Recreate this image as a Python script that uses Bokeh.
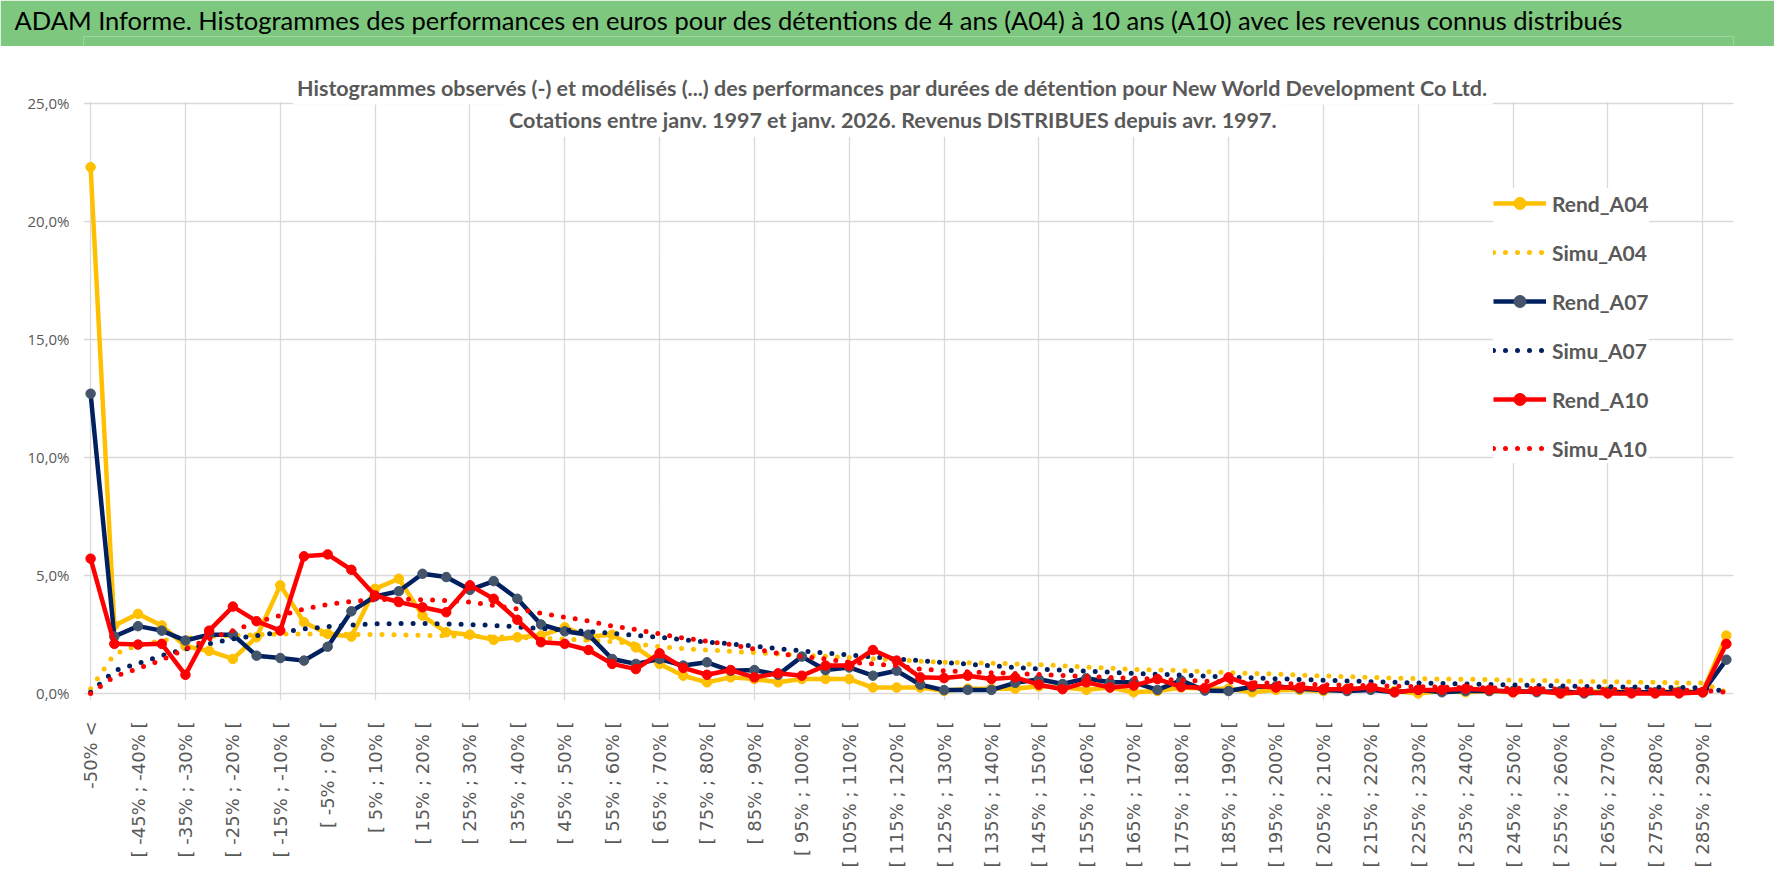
from bokeh.plotting import figure
from bokeh.models import (ColumnDataSource, Legend, LegendItem, FixedTicker, Label, Range1d,
                          Title, BoxAnnotation)
from bokeh.layouts import column
from bokeh.embed import file_html
from bokeh.resources import INLINE

categories = [
    "-50% <", "[ -50% ; -45% [", "[ -45% ; -40% [", "[ -40% ; -35% [", "[ -35% ; -30% [",
    "[ -30% ; -25% [", "[ -25% ; -20% [", "[ -20% ; -15% [", "[ -15% ; -10% [", "[ -10% ; -5% [",
    "[ -5% ; 0% [", "[ 0% ; 5% [", "[ 5% ; 10% [", "[ 10% ; 15% [", "[ 15% ; 20% [",
    "[ 20% ; 25% [", "[ 25% ; 30% [", "[ 30% ; 35% [", "[ 35% ; 40% [", "[ 40% ; 45% [",
    "[ 45% ; 50% [", "[ 50% ; 55% [", "[ 55% ; 60% [", "[ 60% ; 65% [", "[ 65% ; 70% [",
    "[ 70% ; 75% [", "[ 75% ; 80% [", "[ 80% ; 85% [", "[ 85% ; 90% [", "[ 90% ; 95% [",
    "[ 95% ; 100% [", "[ 100% ; 105% [", "[ 105% ; 110% [", "[ 110% ; 115% [", "[ 115% ; 120% [",
    "[ 120% ; 125% [", "[ 125% ; 130% [", "[ 130% ; 135% [", "[ 135% ; 140% [", "[ 140% ; 145% [",
    "[ 145% ; 150% [", "[ 150% ; 155% [", "[ 155% ; 160% [", "[ 160% ; 165% [", "[ 165% ; 170% [",
    "[ 170% ; 175% [", "[ 175% ; 180% [", "[ 180% ; 185% [", "[ 185% ; 190% [", "[ 190% ; 195% [",
    "[ 195% ; 200% [", "[ 200% ; 205% [", "[ 205% ; 210% [", "[ 210% ; 215% [", "[ 215% ; 220% [",
    "[ 220% ; 225% [", "[ 225% ; 230% [", "[ 230% ; 235% [", "[ 235% ; 240% [", "[ 240% ; 245% [",
    "[ 245% ; 250% [", "[ 250% ; 255% [", "[ 255% ; 260% [", "[ 260% ; 265% [", "[ 265% ; 270% [",
    "[ 270% ; 275% [", "[ 275% ; 280% [", "[ 280% ; 285% [", "[ 285% ; 290% [", "> 290%",
]

rend_a04 = [22.3, 2.88, 3.37, 2.88, 2.0, 1.8, 1.46, 2.38, 4.58, 3.02,
            2.52, 2.41, 4.43, 4.86, 3.30, 2.59, 2.49, 2.27, 2.38, 2.45,
            2.8, 2.41, 2.49, 1.95, 1.25, 0.75, 0.47, 0.68, 0.61, 0.47,
            0.61, 0.61, 0.61, 0.25, 0.25, 0.25, 0.11, 0.2, 0.2, 0.2,
            0.3, 0.25, 0.15, 0.25, 0.05, 0.1, 0.25, 0.2, 0.2, 0.05,
            0.15, 0.15, 0.1, 0.2, 0.2, 0.1, 0.0, 0.1, 0.05, 0.1,
            0.05, 0.1, 0.0, 0.05, 0.1, 0.05, 0.05, 0.1, 0.05, 2.45]
simu_a04 = [0.2, 1.67, 2.05, 2.24, 2.35, 2.41, 2.45, 2.49, 2.52, 2.52,
            2.52, 2.5, 2.5, 2.48, 2.46, 2.44, 2.42, 2.4, 2.37, 2.34,
            2.3, 2.25, 2.2, 2.1, 1.98, 1.9, 1.84, 1.78, 1.73, 1.67,
            1.62, 1.57, 1.52, 1.47, 1.42, 1.37, 1.32, 1.3, 1.28, 1.25,
            1.22, 1.17, 1.12, 1.07, 1.02, 1.0, 0.97, 0.93, 0.88, 0.85,
            0.82, 0.78, 0.74, 0.71, 0.68, 0.65, 0.63, 0.61, 0.6, 0.59,
            0.56, 0.55, 0.53, 0.5, 0.5, 0.48, 0.47, 0.45, 0.44, 0.05]
rend_a07 = [12.7, 2.41, 2.85, 2.66, 2.24, 2.49, 2.49, 1.60, 1.50, 1.39,
            1.98, 3.48, 4.11, 4.33, 5.07, 4.93, 4.39, 4.76, 4.01, 2.92,
            2.63, 2.49, 1.46, 1.25, 1.46, 1.18, 1.32, 0.96, 0.99, 0.79,
            1.56, 0.99, 1.10, 0.75, 0.96, 0.37, 0.14, 0.15, 0.15, 0.45,
            0.6, 0.4, 0.64, 0.47, 0.47, 0.15, 0.55, 0.12, 0.1, 0.28,
            0.3, 0.2, 0.15, 0.1, 0.15, 0.05, 0.15, 0.05, 0.1, 0.1,
            0.1, 0.05, 0.1, 0.0, 0.05, 0.05, 0.05, 0.05, 0.05, 1.43]
simu_a07 = [0.05, 0.96, 1.27, 1.60, 1.88, 2.10, 2.31, 2.45, 2.59, 2.73,
            2.83, 2.90, 2.95, 2.96, 2.96, 2.95, 2.92, 2.88, 2.82, 2.75,
            2.69, 2.63, 2.55, 2.46, 2.38, 2.27, 2.18, 2.10, 2.0, 1.90,
            1.80, 1.71, 1.63, 1.54, 1.46, 1.39, 1.31, 1.24, 1.17, 1.10,
            1.03, 0.99, 0.95, 0.90, 0.85, 0.81, 0.78, 0.74, 0.69, 0.66,
            0.62, 0.59, 0.56, 0.53, 0.5, 0.47, 0.44, 0.42, 0.4, 0.38,
            0.36, 0.34, 0.32, 0.3, 0.28, 0.27, 0.26, 0.25, 0.24, 0.08]
rend_a10 = [5.71, 2.10, 2.07, 2.10, 0.79, 2.66, 3.68, 3.06, 2.66, 5.81,
            5.89, 5.24, 4.15, 3.87, 3.65, 3.44, 4.58, 4.01, 3.12, 2.17,
            2.10, 1.84, 1.25, 1.03, 1.70, 1.08, 0.79, 0.99, 0.68, 0.85,
            0.75, 1.18, 1.18, 1.84, 1.39, 0.68, 0.65, 0.75, 0.61, 0.68,
            0.37, 0.18, 0.47, 0.25, 0.33, 0.61, 0.28, 0.23, 0.68, 0.33,
            0.25, 0.25, 0.18, 0.18, 0.25, 0.05, 0.15, 0.15, 0.2, 0.15,
            0.05, 0.1, 0.0, 0.05, 0.0, 0.0, 0.0, 0.0, 0.05, 2.1]
simu_a10 = [0.0, 0.71, 1.06, 1.42, 1.88, 2.31, 2.66, 3.02, 3.30, 3.58,
            3.77, 3.90, 3.97, 4.0, 3.97, 3.94, 3.87, 3.73, 3.58, 3.40,
            3.23, 3.07, 2.85, 2.71, 2.52, 2.35, 2.21, 2.07, 1.88, 1.70,
            1.56, 1.46, 1.32, 1.25, 1.18, 1.03, 0.96, 0.92, 0.88, 0.84,
            0.8, 0.76, 0.72, 0.68, 0.64, 0.6, 0.56, 0.52, 0.49, 0.46,
            0.43, 0.40, 0.37, 0.35, 0.33, 0.31, 0.29, 0.27, 0.25, 0.23,
            0.22, 0.2, 0.19, 0.18, 0.17, 0.16, 0.15, 0.14, 0.13, 0.05]

y_ticks = [0, 5, 10, 15, 20, 25]
y_tick_labels = ["0,0%", "5,0%", "10,0%", "15,0%", "20,0%", "25,0%"]

title_text = ("ADAM Informe. Histogrammes des performances en euros pour des détentions "
              "de 4 ans (A04) à 10 ans (A10) avec les revenus connus distribués")
subtitle_1 = ("Histogrammes observés (-) et modélisés (...) des performances par durées "
              "de détention pour New World Development Co Ltd.")
subtitle_2 = "Cotations entre janv. 1997 et janv. 2026. Revenus DISTRIBUES depuis avr. 1997."

YEL = "#FFC000"
NAVY = "#002060"
NAVY_M = "#44546A"
RED = "#FF0000"
GREEN = "#7DC77F"
GREY_TXT = "#595959"
GRID = "#d9d9d9"
FONT = "Lato"

W = 1774
LEFT = 83
FRAME_W = 1650


def strip(height, color):
    f = figure(width=W, height=height, x_range=Range1d(0, 1), y_range=Range1d(0, 1),
               toolbar_location=None, output_backend="svg",
               x_axis_location=None, y_axis_location=None, min_border=0)
    f.grid.visible = False
    f.background_fill_color = color
    f.border_fill_color = color
    f.outline_line_color = None
    return f


# ---- green title band + thin grey separator ----
band = strip(46, GREEN)
band.add_layout(Title(text=title_text, align="left", offset=14 - LEFT, standoff=4,
                      text_font=FONT, text_font_size="25.5px", text_font_style="normal",
                      text_color="#000000"), "above")
sep = strip(3, GRID)

# ---- main chart ----
n = len(categories)
x = list(range(n))
src = ColumnDataSource(dict(x=x, rend_a04=rend_a04, simu_a04=simu_a04,
                            rend_a07=rend_a07, simu_a07=simu_a07,
                            rend_a10=rend_a10, simu_a10=simu_a10))

p = figure(width=W, height=823, x_range=Range1d(-0.3, n - 1 + 0.3), y_range=Range1d(-0.3, 27.2),
           toolbar_location=None, output_backend="svg",
           min_border_left=LEFT, min_border_right=W - LEFT - FRAME_W,
           min_border_top=2, min_border_bottom=172)
p.outline_line_color = None
p.background_fill_color = "white"
p.border_fill_color = "white"

# axes
p.xaxis.ticker = FixedTicker(ticks=list(range(0, n - 1, 2)))
p.xaxis.major_label_overrides = {i: categories[i] for i in range(0, n - 1, 2)}
p.xaxis.major_label_orientation = 3.14159265 / 2
p.xaxis.major_label_standoff = 15
p.xaxis.major_label_text_font = "DejaVu Sans"
p.xaxis.major_label_text_font_size = "18px"
p.xaxis.major_label_text_color = GREY_TXT
p.yaxis.ticker = FixedTicker(ticks=y_ticks)
p.yaxis.major_label_overrides = {t: l for t, l in zip(y_ticks, y_tick_labels)}
p.yaxis.major_label_standoff = 8
p.yaxis.major_label_text_font = "Open Sans"
p.yaxis.major_label_text_font_size = "15px"
p.yaxis.major_label_text_color = GREY_TXT
for ax in (p.xaxis, p.yaxis):
    ax.axis_line_color = None
    ax.major_tick_line_color = None
    ax.minor_tick_line_color = None

p.xgrid.ticker = FixedTicker(ticks=list(range(0, n, 4)))
p.ygrid.ticker = FixedTicker(ticks=y_ticks)
p.grid.grid_line_color = GRID
p.grid.grid_line_width = 1.3

# white area above the 25% line (chart title zone)
p.add_layout(BoxAnnotation(bottom=25.06, fill_color="white", fill_alpha=1.0,
                           line_color=None, level="underlay"))

# series
r_a04 = p.line("x", "rend_a04", source=src, line_color=YEL, line_width=4.5, line_join="round")
m_a04 = p.scatter("x", "rend_a04", source=src, size=9.5, fill_color=YEL, line_color=YEL)
s_a04 = p.line("x", "simu_a04", source=src, line_color=YEL, line_width=5,
               line_dash="0 12", line_cap="round")
r_a07 = p.line("x", "rend_a07", source=src, line_color=NAVY, line_width=4.5, line_join="round")
m_a07 = p.scatter("x", "rend_a07", source=src, size=9.5, fill_color=NAVY_M, line_color=NAVY_M)
s_a07 = p.line("x", "simu_a07", source=src, line_color=NAVY, line_width=5,
               line_dash="0 12", line_cap="round")
r_a10 = p.line("x", "rend_a10", source=src, line_color=RED, line_width=4.5, line_join="round")
m_a10 = p.scatter("x", "rend_a10", source=src, size=9.5, fill_color=RED, line_color=RED)
s_a10 = p.line("x", "simu_a10", source=src, line_color=RED, line_width=5,
               line_dash="0 12", line_cap="round")

legend = Legend(items=[
    LegendItem(label="Rend_A04", renderers=[r_a04, m_a04]),
    LegendItem(label="Simu_A04", renderers=[s_a04]),
    LegendItem(label="Rend_A07", renderers=[r_a07, m_a07]),
    LegendItem(label="Simu_A07", renderers=[s_a07]),
    LegendItem(label="Rend_A10", renderers=[r_a10, m_a10]),
    LegendItem(label="Simu_A10", renderers=[s_a10]),
], location=(1410, 237))
legend.label_text_font = FONT
legend.label_text_font_style = "bold"
legend.label_text_font_size = "21px"
legend.label_text_color = GREY_TXT
legend.glyph_width = 53
legend.glyph_height = 30
legend.label_height = 30
legend.spacing = 19
legend.padding = 10
legend.margin = 0
legend.label_standoff = 6
legend.border_line_color = None
legend.background_fill_color = "white"
legend.background_fill_alpha = 1.0
p.add_layout(legend)

xc = (892 - 90) / 23.7
p.add_layout(Label(x=xc, y=25.67, text=subtitle_1, text_align="center", text_baseline="middle",
                   text_font=FONT, text_font_style="bold", text_font_size="21.5px",
                   text_color=GREY_TXT, background_fill_color="white", padding=4))
p.add_layout(Label(x=xc, y=24.31, text=subtitle_2, text_align="center", text_baseline="middle",
                   text_font=FONT, text_font_style="bold", text_font_size="21.5px",
                   text_color=GREY_TXT, background_fill_color="white", padding=4))

layout = column(band, sep, p, spacing=0)
open("out.html", "w").write(file_html(layout, INLINE))
